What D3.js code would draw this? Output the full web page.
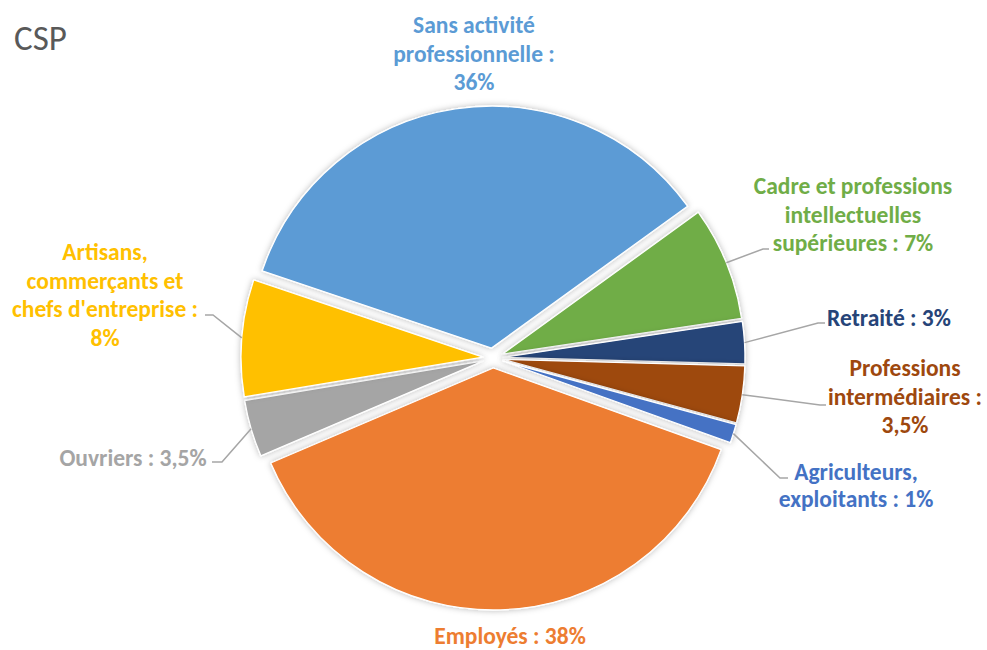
<!DOCTYPE html>
<html><head><meta charset="utf-8">
<script src="https://cdn.jsdelivr.net/npm/d3@7"></script>
<style>html,body{margin:0;padding:0;background:#fff;}svg{display:block;}</style>
</head><body>
<script>
const categories = ["Cadre et professions intellectuelles supérieures", "Retraité", "Professions intermédiaires", "Agriculteurs, exploitants", "Employés", "Ouvriers", "Artisans, commerçants et chefs d'entreprise", "Sans activité professionnelle"];
const values = [7.6, 2.8, 3.8, 1.25, 38.1, 3.8, 7.8, 34.85];
const valueLabels = ["7%", "3%", "3,5%", "1%", "38%", "3,5%", "8%", "36%"];
const labelLines = [
  ["Cadre et professions", "intellectuelles", "supérieures : 7%"],
  ["Retraité : 3%"],
  ["Professions", "intermédiaires :", "3,5%"],
  ["Agriculteurs,", "exploitants : 1%"],
  ["Employés : 38%"],
  ["Ouvriers : 3,5%"],
  ["Artisans,", "commerçants et", "chefs d'entreprise :", "8%"],
  ["Sans activité", "professionnelle :", "36%"]
];
const colors = ["#70AD47", "#264478", "#9E480E", "#4472C4", "#ED7D31", "#A5A5A5", "#FFC000", "#5B9BD5"];

// layout (not data)
const W = 987, H = 650, cx = 493, cy = 358, R = 242, explode = 10;
const startDeg = 54.1;
const lineH = 28.6;
const labelPos = [
  {x: 853, y: 194, elbow: [763, 249], end: [769, 249]},
  {x: 889, y: 326, elbow: [818, 323], end: [825, 323]},
  {x: 905, y: 376, elbow: [820, 405], end: [826, 405]},
  {x: 856, y: 480, lh: 27, elbow: [780, 478], end: [788, 478]},
  {x: 510, y: 644},
  {x: 133, y: 466, elbow: [222, 462], end: [212, 462]},
  {x: 105, y: 260, elbow: [213, 315], end: [205, 315]},
  {x: 474, y: 33}
];

const svg = d3.select("body").append("svg").attr("width", W).attr("height", H);
const defs = svg.append("defs");
const f = defs.append("filter").attr("id", "sh").attr("x", "-20%").attr("y", "-20%").attr("width", "140%").attr("height", "140%");
f.append("feDropShadow").attr("dx", 0).attr("dy", 0).attr("stdDeviation", 3)
  .attr("flood-color", "#000").attr("flood-opacity", 0.28);

svg.append("text").attr("x", 14).attr("y", 49.5).text("CSP")
  .attr("font-family", "Calibri, Carlito, Lato, sans-serif").attr("font-size", 35)
  .attr("fill", "#595959");

const a0 = startDeg * Math.PI / 180;
const pie = d3.pie().sort(null).value(d => d).startAngle(a0).endAngle(a0 + 2 * Math.PI);
const arcs = pie(values);
const arc = d3.arc().innerRadius(0).outerRadius(R);

const g = svg.append("g").attr("transform", `translate(${cx},${cy})`);
g.selectAll("path").data(arcs).join("path")
  .attr("d", arc)
  .attr("fill", (d, i) => colors[i])
  .attr("stroke", "#fff").attr("stroke-width", 1.3).attr("stroke-linejoin", "round")
  .attr("filter", "url(#sh)")
  .attr("transform", d => {
    const m = (d.startAngle + d.endAngle) / 2;
    return `translate(${explode * Math.sin(m)},${-explode * Math.cos(m)})`;
  });

// leader lines
arcs.forEach((d, i) => {
  const p = labelPos[i];
  if (!p.elbow) return;
  const m = (d.startAngle + d.endAngle) / 2;
  const sx = cx + (explode + R) * Math.sin(m), sy = cy - (explode + R) * Math.cos(m);
  svg.append("polyline")
    .attr("points", [[sx, sy], p.elbow, p.end].map(q => q.join(",")).join(" "))
    .attr("fill", "none").attr("stroke", "#A6A6A6").attr("stroke-width", 1.5);
});

// labels
labelLines.forEach((lines, i) => {
  const p = labelPos[i];
  const t = svg.append("text")
    .attr("text-anchor", "middle")
    .attr("font-family", "Calibri, Carlito, Lato, sans-serif")
    .attr("font-weight", "bold").attr("font-size", 23.5)
    .attr("fill", colors[i]);
  lines.forEach((ln, k) => {
    t.append("tspan").attr("x", p.x).attr("y", p.y + k * (p.lh || lineH)).text(ln);
  });
});
</script>
</body></html>
